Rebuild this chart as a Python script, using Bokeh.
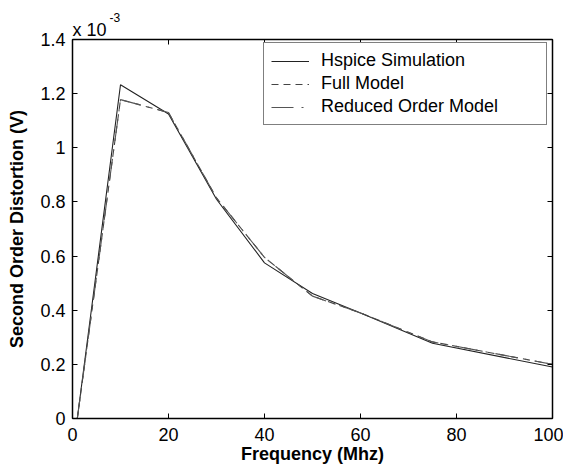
from bokeh.plotting import figure
from bokeh.models import LinearAxis, FixedTicker, Legend, LegendItem, Title, Range1d
from bokeh.embed import file_html
from bokeh.resources import INLINE

# Frequency (MHz)
freq = [1, 10, 20, 30, 40, 50, 60, 75, 100]
# Second order distortion, in units of 1e-3 V
hspice = [0.0, 1.233, 1.125, 0.81, 0.575, 0.462, 0.39, 0.278, 0.19]
full_model = [0.0, 1.178, 1.13, 0.815, 0.595, 0.452, 0.39, 0.283, 0.20]
reduced_model = [0.0, 1.178, 1.13, 0.815, 0.595, 0.452, 0.39, 0.283, 0.20]

x_ticks = [0, 20, 40, 60, 80, 100]
y_ticks = [0, 0.2, 0.4, 0.6, 0.8, 1.0, 1.2, 1.4]
y_tick_labels = {0: "0", 0.2: "0.2", 0.4: "0.4", 0.6: "0.6", 0.8: "0.8", 1.0: "1", 1.2: "1.2", 1.4: "1.4"}

FONT = "Liberation Sans"

p = figure(output_backend="svg", toolbar_location=None, title=None,
           frame_width=480, frame_height=379,
           min_border_left=72, min_border_right=11, min_border_top=39, min_border_bottom=50,
           x_range=Range1d(0, 100), y_range=Range1d(0, 1.4))
p.grid.visible = False
p.outline_line_color = "black"
p.outline_line_width = 1
p.background_fill_color = "white"
p.border_fill_color = "white"

r1 = p.line(freq, hspice, line_color="#222222", line_width=1.1)
r2 = p.line(freq, full_model, line_color="#444444", line_width=1.1, line_dash="7 5")
r3 = p.line(freq, reduced_model, line_color="#555555", line_width=1.1, line_dash="22 8 2 8")

def style_axis(ax, labels=True):
    ax.major_tick_in = 5
    ax.major_tick_out = 0
    ax.minor_tick_in = 0
    ax.minor_tick_out = 0
    ax.axis_line_color = "black"
    ax.axis_line_width = 1.5
    ax.major_tick_line_color = "black"
    if labels:
        ax.major_label_text_font = FONT
        ax.major_label_text_font_size = "18px"
        ax.major_label_text_color = "black"
    else:
        ax.major_label_text_font_size = "0px"
        ax.major_label_text_alpha = 0
        ax.major_label_standoff = 0

xa = p.xaxis[0]
xa.ticker = FixedTicker(ticks=x_ticks)
style_axis(xa)
xa.major_label_standoff = 9
xa.axis_label = "Frequency (Mhz)"
xa.axis_label_text_font = FONT
xa.axis_label_text_font_style = "bold"
xa.axis_label_text_font_size = "18px"
xa.axis_label_text_color = "black"
xa.axis_label_standoff = 0

ya = p.yaxis[0]
ya.ticker = FixedTicker(ticks=y_ticks)
ya.major_label_overrides = y_tick_labels
style_axis(ya)
ya.major_label_standoff = 7
ya.axis_label = "Second Order Distortion (V)"
ya.axis_label_text_font = FONT
ya.axis_label_text_font_style = "bold"
ya.axis_label_text_font_size = "18px"
ya.axis_label_text_color = "black"
ya.axis_label_standoff = 10

ra = LinearAxis(ticker=FixedTicker(ticks=y_ticks))
style_axis(ra, labels=False)
p.add_layout(ra, "right")
ta = LinearAxis(ticker=FixedTicker(ticks=x_ticks))
style_axis(ta, labels=False)
p.add_layout(ta, "above")

t1 = Title(text="x 10", align="left", offset=0, standoff=0, text_font=FONT,
           text_font_size="18px", text_font_style="normal", text_color="black")
p.add_layout(t1, "above")
t2 = Title(text="-3", align="left", offset=37, standoff=-8, text_font=FONT,
           text_font_size="12px", text_font_style="normal", text_color="black")
p.add_layout(t2, "above")

legend = Legend(items=[LegendItem(label="Hspice Simulation", renderers=[r1]),
                       LegendItem(label="Full Model", renderers=[r2]),
                       LegendItem(label="Reduced Order Model", renderers=[r3])],
                location=(191, 293))
legend.label_text_font = FONT
legend.label_text_font_size = "18px"
legend.label_text_color = "black"
legend.glyph_width = 38
legend.glyph_height = 20
legend.label_height = 20
legend.label_width = 218
legend.label_standoff = 12
legend.spacing = 2
legend.padding = 7
legend.margin = 0
legend.border_line_color = "black"
legend.border_line_width = 1
legend.background_fill_alpha = 1
p.add_layout(legend)

open("out.html", "w").write(file_html(p, INLINE))
